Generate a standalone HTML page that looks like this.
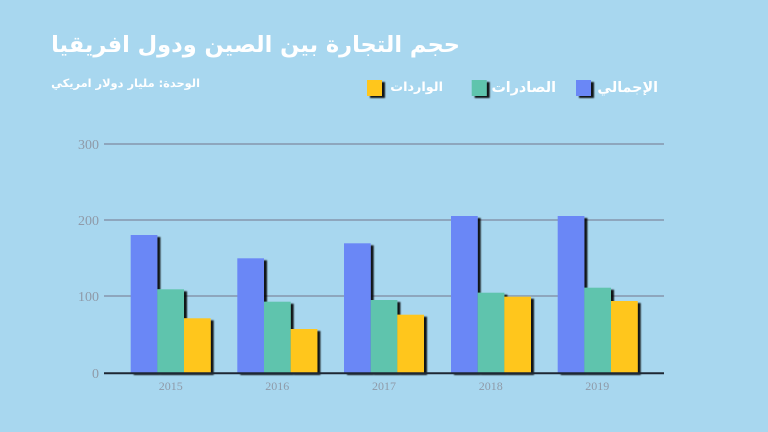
<!DOCTYPE html>
<html><head><meta charset="utf-8">
<style>
html,body{margin:0;padding:0;}
body{width:768px;height:432px;background:#a8d7ef;position:relative;overflow:hidden;font-family:"DejaVu Sans","Liberation Sans",sans-serif;}
.ar{position:absolute;direction:rtl;color:#fff;font-weight:bold;white-space:nowrap;font-family:"DejaVu Sans","Liberation Sans",sans-serif;}
svg{position:absolute;left:0;top:0;}
</style></head>
<body>
<svg width="768" height="432" viewBox="0 0 768 432">
<defs>
<filter id="sh" x="-20%" y="-20%" width="150%" height="150%">
<feDropShadow dx="3" dy="2" stdDeviation="0.8" flood-color="#000" flood-opacity="0.9"/>
</filter>
</defs>
<g stroke="#8ea6bd" stroke-width="2">
<line x1="104" y1="144" x2="664" y2="144"/>
<line x1="104" y1="220" x2="664" y2="220"/>
<line x1="104" y1="296" x2="664" y2="296"/>
</g>
<g font-family="Liberation Serif, serif" font-size="14" fill="#8f9aa8" text-anchor="end">
<text x="99" y="149">300</text>
<text x="99" y="225">200</text>
<text x="99" y="301">100</text>
<text x="99" y="378">0</text>
</g>
<g filter="url(#sh)">
<rect x="130.7" y="235" width="26.7" height="138" fill="#6b87f6"/>
<rect x="157.3" y="289.3" width="26.7" height="83.7" fill="#5fc4ad"/>
<rect x="184" y="318.3" width="26.7" height="54.7" fill="#ffc61d"/>
<rect x="237.3" y="258.3" width="26.7" height="114.7" fill="#6b87f6"/>
<rect x="264" y="301.7" width="26.7" height="71.3" fill="#5fc4ad"/>
<rect x="290.7" y="329" width="26.7" height="44" fill="#ffc61d"/>
<rect x="344" y="243.3" width="26.7" height="129.7" fill="#6b87f6"/>
<rect x="370.7" y="300" width="26.7" height="73" fill="#5fc4ad"/>
<rect x="397.3" y="314.7" width="26.7" height="58.3" fill="#ffc61d"/>
<rect x="451" y="216" width="26.7" height="157" fill="#6b87f6"/>
<rect x="477.7" y="292.7" width="26.7" height="80.3" fill="#5fc4ad"/>
<rect x="504.3" y="296.7" width="26.7" height="76.3" fill="#ffc61d"/>
<rect x="557.7" y="216" width="26.7" height="157" fill="#6b87f6"/>
<rect x="584.3" y="287.7" width="26.7" height="85.3" fill="#5fc4ad"/>
<rect x="611" y="301" width="26.7" height="72" fill="#ffc61d"/>
</g>
<line x1="104" y1="373.3" x2="664" y2="373.3" stroke="#1d2733" stroke-width="2"/>
<g font-family="Liberation Serif, serif" font-size="12" fill="#8f9aa8" text-anchor="middle">
<text x="170.7" y="390">2015</text>
<text x="277.3" y="390">2016</text>
<text x="384" y="390">2017</text>
<text x="490.7" y="390">2018</text>
<text x="597.3" y="390">2019</text>
</g>
<g filter="url(#sh)">
<rect x="576" y="80" width="15" height="16" fill="#6b87f6"/>
<rect x="471.7" y="80" width="15" height="16" fill="#5fc4ad"/>
<rect x="367" y="80" width="15" height="16" fill="#ffc61d"/>
</g>
</svg>
<div class="ar" style="right:308px;top:29px;font-size:22.5px;line-height:32px;">حجم التجارة بين الصين ودول افريقيا</div>
<div class="ar" style="right:568px;top:75px;font-size:11.4px;line-height:16px;">الوحدة: مليار دولار امريكي</div>
<div class="ar" style="right:110px;top:78px;font-size:14.3px;line-height:20px;">الإجمالي</div>
<div class="ar" style="right:212px;top:78px;font-size:14.3px;line-height:20px;">الصادرات</div>
<div class="ar" style="right:325px;top:78px;font-size:12.8px;line-height:20px;">الواردات</div>
</body></html>
